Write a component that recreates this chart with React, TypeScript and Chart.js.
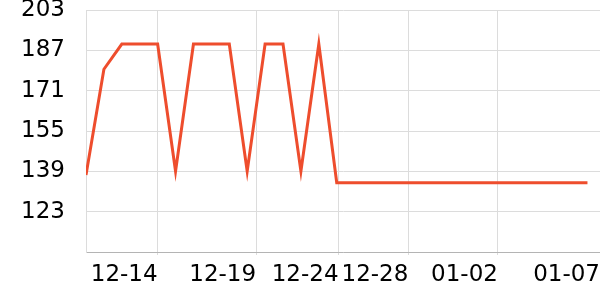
import React, { useEffect, useRef } from "react";
import { Chart, registerables } from "chart.js";

Chart.register(...registerables);

const dates = [
  "12-10", "12-11", "12-12", "12-13", "12-14", "12-15", "12-16", "12-17", "12-18", "12-19",
  "12-20", "12-21", "12-22", "12-23", "12-24", "12-25", "12-26", "12-27", "12-28", "12-29",
  "12-30", "12-31", "01-01", "01-02", "01-03", "01-04", "01-05", "01-06", "01-07",
];
const values = [
  137.5, 179.5, 189.5, 189.5, 189.5, 139, 189.5, 189.5, 189.5, 139,
  189.5, 189.5, 139, 189.5, 134.5, 134.5, 134.5, 134.5, 134.5, 134.5,
  134.5, 134.5, 134.5, 134.5, 134.5, 134.5, 134.5, 134.5, 134.5,
];
const xTickLabels = ["12-14", "12-19", "12-24", "12-28", "01-02", "01-07"];
const xTickDays = [4, 9.5, 14.1, 18, 23, 28.7];
const yMin = 107;
const yMax = 203;
const yStep = 16;

export default function App() {
  const ref = useRef<HTMLCanvasElement>(null);
  useEffect(() => {
    document.body.style.margin = "0";
    const ctx = ref.current!;
    const font = { family: "'DejaVu Sans'", size: 23 };
    const chart = new Chart(ctx, {
      type: "line",
      data: {
        labels: dates,
        datasets: [
          {
            label: "value",
            data: values.map((v, i) => ({ x: i, y: v })),
            borderColor: "#ee4d2d",
            borderWidth: 3,
            pointRadius: 0,
            tension: 0,
            fill: false,
          },
        ],
      },
      options: {
        animation: false,
        responsive: true,
        maintainAspectRatio: false,
        layout: { padding: 0 },
        plugins: { legend: { display: false }, tooltip: { enabled: false } },
        scales: {
          x: {
            type: "linear",
            min: 0,
            max: xTickDays[xTickDays.length - 1],
            afterBuildTicks: (scale: any) => {
              scale.ticks = xTickDays.map((v) => ({ value: v }));
            },
            afterFit: (scale: any) => {
              scale.paddingLeft = 0;
              scale.paddingRight = 0;
              scale.height = 48;
            },
            ticks: {
              font,
              color: "#000",
              align: "end",
              maxRotation: 0,
              autoSkip: false,
              padding: 6,
              callback: (v: any) => {
                const idx = xTickDays.indexOf(Number(v));
                return idx >= 0 ? xTickLabels[idx] : "";
              },
            },
            grid: { color: "#dcdcdc", tickLength: 3, drawTicks: true },
            border: { color: "#b4b4b4" },
          },
          y: {
            min: yMin,
            max: yMax,
            afterFit: (scale: any) => {
              scale.width = 86;
              scale.paddingTop = 10;
              scale.paddingBottom = 0;
            },
            ticks: {
              stepSize: yStep,
              font,
              color: "#000",
              padding: 21,
              callback: (v: any) => (Number(v) === yMin ? "" : String(v)),
            },
            grid: { color: "#dcdcdc", drawTicks: false },
            border: { color: "#dcdcdc" },
          },
        },
      },
    });
    return () => chart.destroy();
  }, []);
  return (
    <div style={{ width: 600, height: 300, position: "relative" }}>
      <canvas ref={ref} />
    </div>
  );
}
